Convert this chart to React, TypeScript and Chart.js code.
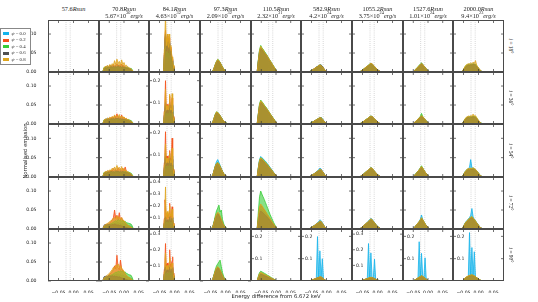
import React, { useEffect, useRef } from 'react';
import { Chart, registerables } from 'chart.js';
Chart.register(...registerables);

// ---------------- labels ----------------
const RADII = ['57.6', '70.8', '84.1', '97.3', '110.5', '582.9', '1055.2', '1527.6', '2000.0'];
const LUM_MANT = ['', '5.67', '4.63', '2.09', '2.32', '4.2', '3.75', '1.01', '9.4'];
const LUM_EXP = ['', '30', '32', '32', '31', '24', '24', '24', '23'];
const INCL = ['18', '36', '54', '72', '90'];
const PSI = ['0.0', '0.2', '0.4', '0.6', '0.8'];
const X_TICKS = [-0.05, 0, 0.05];
const REF_LINES = [-0.025, -0.011];
const Y_UNIT = 0.001; // series values below are normalised emission in units of 0.001

// ---------------- x grids (energy difference, keV) ----------------
const X_C2 = [-0.072, -0.068, -0.064, -0.060, -0.056, -0.052, -0.048, -0.044, -0.040, -0.036, -0.032, -0.028, -0.024, -0.020, -0.016, -0.012, -0.008, -0.004, 0.000, 0.004, 0.008, 0.012, 0.016, 0.020, 0.024, 0.028, 0.032];
const X_C3 = [-0.040, -0.038, -0.036, -0.034, -0.032, -0.030, -0.028, -0.026, -0.024, -0.022, -0.020, -0.018, -0.016, -0.014, -0.012, -0.010, -0.008, -0.006, -0.004, -0.002, 0.000, 0.002, 0.004];
const X_C4 = [-0.050, -0.046, -0.042, -0.038, -0.034, -0.030, -0.026, -0.022, -0.018, -0.014, -0.010, -0.006, -0.002, 0.002, 0.006, 0.010, 0.014, 0.018];
const X_C5 = [-0.068, -0.064, -0.060, -0.056, -0.052, -0.048, -0.044, -0.040, -0.036, -0.032, -0.028, -0.024, -0.020, -0.016, -0.012, -0.008, -0.004, 0.000, 0.004, 0.008, 0.012];
const X_C6 = [-0.062, -0.058, -0.054, -0.050, -0.046, -0.042, -0.038, -0.034, -0.030, -0.026, -0.022, -0.018, -0.014, -0.010, -0.006, -0.002, 0.002, 0.006, 0.010, 0.014, 0.018];

// ---------------- series (psi = 0.0, 0.2, 0.4, 0.6, 0.8) ----------------
// column 2 : 70.8 Rsun
const R1C2 = [
  [0,10,14,12,16,13,15,18,14,16,12,17,15,19,14,16,13,17,12,14,11,13,10,9,8,5,0],
  [0,8,12,15,11,14,18,13,17,20,15,18,22,16,19,14,21,15,17,12,13,10,9,8,6,4,0],
  [0,12,10,13,12,10,14,12,11,13,10,12,11,14,10,12,11,13,10,11,12,10,11,9,10,6,0],
  [0,9,11,10,13,12,11,14,12,15,13,14,12,16,13,15,12,14,11,12,10,11,9,8,7,4,0],
  [0,11,15,13,18,14,20,16,22,18,30,20,34,22,28,19,32,20,25,16,18,14,12,10,8,5,0],
];
const R2C2 = [
  [0,9,12,14,11,15,13,16,12,18,14,16,13,17,15,14,16,12,14,11,12,10,9,8,7,4,0],
  [0,8,13,11,15,12,17,14,19,15,22,17,27,18,20,16,24,15,18,13,14,11,10,8,6,4,0],
  [0,11,9,12,10,13,11,12,10,14,11,13,12,11,13,10,12,11,10,12,11,10,12,10,9,6,0],
  [0,8,10,12,11,13,12,14,13,15,12,16,14,15,13,14,12,13,11,12,10,11,9,8,7,4,0],
  [0,10,13,12,16,13,18,15,20,16,24,18,22,19,25,17,21,16,19,14,15,12,11,9,7,5,0],
];
const R3C2 = [
  [0,10,13,11,15,12,16,13,17,14,15,18,14,16,13,17,14,15,12,14,12,11,10,9,7,4,0],
  [0,9,12,14,12,16,14,18,15,22,17,20,16,24,18,21,17,23,16,26,15,13,11,9,7,4,0],
  [0,12,10,13,11,12,10,14,12,11,13,12,14,11,13,12,11,13,12,14,13,12,13,11,10,6,0],
  [0,9,11,10,12,13,12,15,13,14,12,15,13,16,12,14,13,15,12,13,11,12,10,9,8,4,0],
  [0,11,14,13,17,15,19,16,23,18,26,20,30,21,25,19,27,18,22,17,16,13,12,10,8,5,0],
];
const R4C2 = [
  [0,8,10,9,11,10,12,14,13,15,14,16,15,18,14,16,13,15,12,13,11,10,9,8,7,4,0],
  [0,6,9,12,10,14,16,20,24,30,50,28,36,25,43,24,30,20,22,15,13,10,8,6,5,3,0],
  [0,5,7,8,9,10,12,14,16,18,20,22,20,25,22,24,20,22,18,20,17,16,15,14,13,8,0],
  [0,10,12,11,13,12,11,10,12,11,13,12,10,11,9,10,8,7,6,5,4,3,2,2,1,1,0],
  [0,8,11,13,15,17,20,22,25,28,30,26,35,28,32,26,30,24,22,18,14,11,9,7,5,3,0],
];
const R5C2 = [
  [0,9,11,10,12,13,14,16,15,17,16,18,17,19,16,18,15,16,13,12,11,10,9,8,7,4,0],
  [0,6,8,10,12,15,18,22,26,30,40,32,68,35,30,55,32,26,24,18,14,11,9,7,5,3,0],
  [0,6,8,9,10,12,13,15,17,19,21,23,22,26,24,27,25,26,22,24,20,19,17,16,15,9,0],
  [0,11,12,13,12,14,13,12,14,12,13,11,12,10,11,9,8,7,6,5,4,3,2,2,1,1,0],
  [0,8,10,13,16,18,22,26,30,36,32,42,38,45,36,40,34,30,26,20,16,12,10,8,6,3,0],
];
// column 3 : 84.1 Rsun
const R1C3 = [
  [0,0,5,40,80,95,70,60,85,70,55,80,65,50,60,40,30,25,15,8,3,0,0],
  [0,0,8,50,90,110,75,65,95,75,60,90,70,55,65,45,35,25,15,8,3,0,0],
  [0,0,5,35,60,70,50,40,55,45,35,60,45,35,40,30,25,20,10,5,2,0,0],
  [0,0,5,45,85,100,70,55,80,65,50,75,60,45,55,40,30,22,12,6,2,0,0],
  [0,0,10,60,100,150,90,70,100,80,65,100,75,60,70,50,40,30,18,10,4,0,0],
];
const R2C3 = [
  [0,0,5,40,70,90,60,50,70,60,50,75,100,60,55,70,90,50,30,15,5,0,0],
  [0,0,10,60,100,200,90,70,90,80,70,95,130,80,70,90,120,60,35,18,6,0,0],
  [0,0,5,30,50,60,45,40,50,45,40,55,70,45,40,50,60,35,20,10,3,0,0],
  [0,0,5,40,70,100,60,50,65,55,50,70,90,60,50,65,85,45,25,12,4,0,0],
  [0,0,8,55,95,160,85,65,85,75,65,90,138,75,65,85,140,55,30,15,5,0,0],
];
const R3C3 = [
  [0,0,5,45,80,110,70,55,75,65,55,80,105,65,60,75,95,55,30,15,5,0,0],
  [0,0,10,65,110,205,95,75,95,85,75,100,120,85,75,95,176,65,35,18,6,0,0],
  [0,0,5,30,45,55,45,40,50,45,40,50,60,45,40,45,55,35,20,10,3,0,0],
  [0,0,5,40,70,95,60,50,65,55,50,70,85,55,50,60,80,45,25,12,4,0,0],
  [0,0,8,55,90,150,85,65,85,75,65,90,110,75,65,85,130,55,30,15,5,0,0],
];
const R4C3 = [
  [0,0,10,50,90,110,80,65,85,75,65,90,110,75,65,80,100,60,35,18,6,0,0],
  [0,0,15,90,250,200,120,90,130,110,95,140,220,120,100,130,190,90,50,25,8,0,0],
  [0,0,8,40,60,75,55,50,60,55,50,65,80,55,50,60,75,45,25,12,4,0,0],
  [0,0,10,50,80,100,70,60,75,65,60,80,100,70,60,75,95,55,30,15,5,0,0],
  [0,0,12,80,180,360,140,100,150,120,100,160,200,130,110,140,170,90,45,22,7,0,0],
];
const R5C3 = [
  [0,0,8,45,80,100,70,60,80,70,60,85,100,70,60,75,90,60,35,18,6,0,0],
  [0,0,12,75,130,240,110,85,115,100,85,120,200,110,90,115,130,155,50,25,8,0,0],
  [0,0,6,35,50,60,45,40,50,45,40,55,65,45,40,50,60,45,25,12,4,0,0],
  [0,0,8,45,75,90,65,55,70,60,55,75,90,60,55,65,80,55,30,15,5,0,0],
  [0,0,10,60,105,180,95,75,100,85,75,105,150,90,80,100,115,100,40,20,6,0,0],
];
// column 4 : 97.3 Rsun
const R1C4 = [
  [0,0,3,10,19,27,32,30,25,19,13,8,4,1,0,0,0,0],
  [0,0,2,9,18,26,31,29,24,18,12,7,3,1,0,0,0,0],
  [0,0,3,11,20,28,33,31,25,19,13,8,4,1,0,0,0,0],
  [0,0,2,10,19,26,30,29,24,18,12,7,3,1,0,0,0,0],
  [0,0,3,11,20,28,33,30,25,19,13,8,3,1,0,0,0,0],
];
const R2C4 = [
  [0,1,6,15,25,31,30,27,22,17,12,8,5,3,1,0,0,0],
  [0,1,5,14,24,30,29,26,21,16,11,7,4,2,1,0,0,0],
  [0,1,6,16,26,32,31,27,22,17,12,8,5,3,1,0,0,0],
  [0,1,5,15,24,30,29,26,21,16,11,7,4,2,1,0,0,0],
  [0,1,6,16,25,32,30,27,22,17,12,8,5,3,1,0,0,0],
];
const R3C4 = [
  [0,1,6,18,30,40,45,38,30,22,15,9,5,2,1,0,0,0],
  [0,1,5,16,27,34,36,33,27,20,14,8,4,2,1,0,0,0],
  [0,1,6,17,28,35,38,34,28,21,14,9,5,2,1,0,0,0],
  [0,1,5,16,26,33,35,32,26,20,13,8,4,2,1,0,0,0],
  [0,1,6,17,28,35,37,34,27,21,14,9,5,2,1,0,0,0],
];
const R4C4 = [
  [0,1,7,18,30,38,42,40,33,25,17,10,5,2,1,0,0,0],
  [0,1,6,17,29,37,40,38,31,24,16,10,5,2,1,0,0,0],
  [0,1,7,20,35,48,55,63,45,50,25,14,6,3,1,0,0,0],
  [0,1,6,17,28,36,39,37,30,23,15,9,4,2,1,0,0,0],
  [0,1,7,18,30,40,44,42,34,26,17,10,5,2,1,0,0,0],
];
const R5C4 = [
  [0,1,6,16,26,33,36,34,29,22,15,9,4,2,1,0,0,0],
  [0,1,5,15,25,32,35,33,28,21,14,8,4,2,1,0,0,0],
  [0,1,6,18,30,40,45,50,55,38,22,12,5,2,1,0,0,0],
  [0,1,5,15,24,31,34,32,27,20,13,8,4,2,1,0,0,0],
  [0,1,6,16,27,35,38,35,29,22,15,9,4,2,1,0,0,0],
];
// column 5 : 110.5 Rsun
const R1C5 = [
  [0,0,30,55,65,62,58,54,50,45,40,35,30,25,20,15,10,5,1,0,0],
  [0,0,28,52,62,60,56,52,48,44,38,34,28,24,19,14,9,4,1,0,0],
  [0,0,32,58,70,64,60,55,50,46,40,35,30,25,20,15,10,5,1,0,0],
  [0,0,28,52,62,58,55,51,47,43,38,33,28,23,18,13,9,4,1,0,0],
  [0,0,30,56,68,63,59,54,49,45,40,35,30,25,20,15,10,5,1,0,0],
];
const R2C5 = [
  [0,0,26,50,60,57,53,49,45,41,36,32,27,22,18,13,9,4,1,0,0],
  [0,0,25,48,58,55,51,47,44,40,35,31,26,22,17,13,8,4,1,0,0],
  [0,0,28,53,63,59,55,50,46,42,37,32,27,23,18,14,9,4,1,0,0],
  [0,0,24,47,57,54,50,46,43,39,34,30,25,21,17,12,8,4,1,0,0],
  [0,0,27,51,61,58,54,49,45,41,36,32,27,22,18,13,9,4,1,0,0],
];
const R3C5 = [
  [0,0,25,45,53,50,47,44,41,37,33,29,25,21,16,12,8,4,1,0,0],
  [0,0,22,40,48,46,43,40,37,34,30,26,22,19,15,11,7,3,1,0,0],
  [0,0,24,43,50,48,45,42,39,35,31,27,23,20,15,11,7,4,1,0,0],
  [0,0,21,39,46,44,41,38,35,32,29,25,21,18,14,10,7,3,1,0,0],
  [0,0,23,42,49,47,44,41,38,34,30,27,23,19,15,11,7,4,1,0,0],
];
const R4C5 = [
  [0,0,25,45,52,50,47,44,41,37,33,29,25,21,16,12,8,4,1,0,0],
  [0,0,30,55,62,58,54,50,46,41,36,32,27,22,17,13,8,4,1,0,0],
  [0,0,45,85,100,92,85,78,70,62,54,46,38,31,24,17,11,5,1,0,0],
  [0,0,22,40,47,45,42,39,36,33,29,26,22,18,14,10,7,3,1,0,0],
  [0,0,32,58,66,62,57,52,47,42,37,32,27,22,17,13,8,4,1,0,0],
];
const R5C5 = [
  [0,0,15,28,32,30,28,26,24,22,19,17,15,12,10,7,5,2,1,0,0],
  [0,0,18,32,36,34,32,29,27,24,21,19,16,13,10,8,5,2,1,0,0],
  [0,0,22,38,44,41,38,35,32,29,25,22,19,15,12,9,6,3,1,0,0],
  [0,0,14,26,30,28,26,24,22,20,18,16,13,11,9,6,4,2,1,0,0],
  [0,0,18,33,38,36,33,30,28,25,22,19,16,13,10,8,5,2,1,0,0],
];
// column 6 : 582.9 Rsun
const R1C6 = [
  [0,0,2,4,6,8,10,12,14,16,18,19,15,10,6,2,0,0,0,0,0],
  [0,0,2,3,6,8,10,12,14,17,18,18,14,10,5,2,0,0,0,0,0],
  [0,1,2,4,6,7,10,12,15,16,19,17,14,9,5,2,0,0,0,0,0],
  [0,0,2,4,5,8,10,13,14,16,18,18,15,10,6,2,0,0,0,0,0],
  [0,1,2,4,6,8,11,12,14,17,18,17,14,10,6,2,0,0,0,0,0],
];
const R2C6 = [
  [0,0,2,3,5,7,9,11,13,15,17,17,14,10,5,2,0,0,0,0,0],
  [0,0,1,3,5,7,9,11,13,14,16,16,13,9,5,2,0,0,0,0,0],
  [0,0,2,4,6,7,9,11,13,15,16,17,13,9,5,2,0,0,0,0,0],
  [0,0,1,3,5,7,9,10,12,14,16,16,13,9,5,2,0,0,0,0,0],
  [0,0,2,3,5,7,9,11,13,15,17,16,13,9,5,2,0,0,0,0,0],
];
const R3C6 = [
  [0,0,2,4,6,8,11,13,16,19,23,21,16,11,6,2,0,0,0,0,0],
  [0,0,2,4,6,8,10,12,14,16,19,19,15,10,5,2,0,0,0,0,0],
  [0,0,2,4,6,8,10,12,15,17,19,18,14,10,5,2,0,0,0,0,0],
  [0,0,2,3,5,7,10,12,14,16,18,18,14,10,5,2,0,0,0,0,0],
  [0,0,2,4,6,8,10,12,15,17,20,19,15,10,6,2,0,0,0,0,0],
];
const R4C6 = [
  [0,0,2,4,6,9,11,14,17,20,24,22,17,11,6,2,0,0,0,0,0],
  [0,0,2,4,6,8,10,13,15,17,20,19,15,10,6,2,0,0,0,0,0],
  [0,0,2,4,6,8,10,12,15,17,19,19,15,10,5,2,0,0,0,0,0],
  [0,0,2,4,5,8,10,12,14,16,19,18,14,10,5,2,0,0,0,0,0],
  [0,0,2,4,6,8,11,13,15,18,21,20,15,10,6,2,0,0,0,0,0],
];
const R5C6 = [
  [0,0,1,3,5,7,9,11,199,14,135,15,100,9,5,2,0,0,0,0,0],
  [0,0,2,4,6,8,10,12,14,16,18,18,14,10,5,2,0,0,0,0,0],
  [0,0,2,4,5,7,9,11,13,15,17,17,13,9,5,2,0,0,0,0,0],
  [0,0,2,3,5,7,9,11,13,15,16,16,13,9,5,2,0,0,0,0,0],
  [0,0,2,4,6,8,10,12,14,16,19,18,14,10,6,2,0,0,0,0,0],
];
// column 7 : 1055.2 Rsun
const R1C7 = [
  [0,1,3,5,8,10,13,15,18,20,23,21,18,15,11,8,5,3,1,0,0],
  [0,1,3,5,7,10,12,15,17,20,22,21,18,14,11,8,5,3,1,0,0],
  [0,1,3,5,8,10,13,15,18,21,22,21,17,14,11,7,5,2,1,0,0],
  [0,1,2,5,7,10,12,14,17,19,22,20,17,14,10,7,5,2,1,0,0],
  [0,1,3,6,8,11,13,16,18,21,23,22,18,15,11,8,5,3,1,0,0],
];
const R2C7 = [
  [0,1,3,5,7,9,12,14,16,19,21,20,17,14,10,7,5,2,1,0,0],
  [0,1,2,4,7,9,11,13,16,18,20,19,16,13,10,7,4,2,1,0,0],
  [0,1,3,5,7,9,12,14,16,19,21,19,16,13,10,7,4,2,1,0,0],
  [0,1,2,4,6,9,11,13,15,18,20,19,16,13,9,7,4,2,1,0,0],
  [0,1,3,5,7,10,12,14,17,19,21,20,17,14,10,7,5,2,1,0,0],
];
const R3C7 = [
  [0,1,3,6,8,11,14,16,19,22,25,23,19,15,12,8,5,3,1,0,0],
  [0,1,3,5,8,10,13,15,18,21,23,22,18,15,11,8,5,3,1,0,0],
  [0,1,3,5,8,11,13,16,18,21,24,22,18,15,11,8,5,3,1,0,0],
  [0,1,3,5,7,10,12,15,17,20,22,21,17,14,11,7,5,2,1,0,0],
  [0,1,3,6,8,11,14,16,19,22,24,23,19,15,12,8,5,3,1,0,0],
];
const R4C7 = [
  [0,1,3,6,9,12,15,18,21,25,28,26,21,17,13,9,6,3,1,0,0],
  [0,1,3,6,8,11,14,17,20,23,26,24,20,16,12,8,5,3,1,0,0],
  [0,1,3,6,8,11,14,17,20,23,25,24,20,16,12,8,5,3,1,0,0],
  [0,1,3,5,8,11,13,16,19,22,24,23,19,15,11,8,5,3,1,0,0],
  [0,1,3,6,9,12,15,17,20,24,27,25,20,16,12,9,6,3,1,0,0],
];
const R5C7 = [
  [0,1,3,5,8,10,13,15,240,20,180,20,17,140,10,7,5,2,1,0,0],
  [0,1,3,5,8,10,13,15,18,21,23,22,18,15,11,8,5,3,1,0,0],
  [0,1,3,5,7,10,12,15,17,20,22,21,17,14,11,7,5,2,1,0,0],
  [0,1,2,5,7,9,12,14,16,19,21,20,17,14,10,7,4,2,1,0,0],
  [0,1,3,6,8,11,13,16,19,22,24,22,18,15,11,8,5,3,1,0,0],
];
// column 8 : 1527.6 Rsun
const R1C8 = [
  [0,0,0,1,4,7,10,13,17,20,23,20,16,12,8,5,2,1,0,0,0],
  [0,0,0,1,4,7,10,13,16,19,22,20,16,12,8,4,2,1,0,0,0],
  [0,0,0,1,4,7,11,14,17,21,24,20,16,12,8,5,2,1,0,0,0],
  [0,0,0,1,3,6,10,13,16,19,22,19,15,11,8,4,2,1,0,0,0],
  [0,0,0,1,4,7,10,14,17,20,23,20,16,12,8,5,2,1,0,0,0],
];
const R2C8 = [
  [0,0,0,1,4,7,10,13,16,19,22,19,15,12,8,5,2,1,0,0,0],
  [0,0,0,1,4,6,9,12,15,18,21,19,15,11,8,4,2,1,0,0,0],
  [0,0,0,1,4,7,10,13,17,20,28,20,16,12,8,5,2,1,0,0,0],
  [0,0,0,1,3,6,9,12,15,18,20,18,15,11,7,4,2,1,0,0,0],
  [0,0,0,1,4,7,10,13,16,19,22,20,16,12,8,5,2,1,0,0,0],
];
const R3C8 = [
  [0,0,0,1,4,8,11,15,19,23,27,23,18,13,9,5,2,1,0,0,0],
  [0,0,0,1,4,7,11,14,18,22,26,22,17,13,9,5,2,1,0,0,0],
  [0,0,0,1,4,8,12,15,19,24,29,23,18,13,9,5,2,1,0,0,0],
  [0,0,0,1,4,7,10,14,17,21,25,21,17,12,8,5,2,1,0,0,0],
  [0,0,0,1,4,8,11,15,19,23,27,23,18,13,9,5,2,1,0,0,0],
];
const R4C8 = [
  [0,0,0,1,5,8,12,16,20,26,37,25,19,14,9,5,2,1,0,0,0],
  [0,0,0,1,4,8,11,15,19,23,28,24,18,13,9,5,2,1,0,0,0],
  [0,0,0,1,4,8,12,15,19,24,29,24,19,14,9,5,2,1,0,0,0],
  [0,0,0,1,4,7,11,14,18,22,27,23,18,13,9,5,2,1,0,0,0],
  [0,0,0,1,5,8,12,16,20,24,30,25,19,14,9,5,2,1,0,0,0],
];
const R5C8 = [
  [0,0,0,1,4,7,10,13,176,19,124,19,15,104,8,5,2,1,0,0,0],
  [0,0,0,1,4,7,10,13,16,19,22,20,16,12,8,5,2,1,0,0,0],
  [0,0,0,1,4,7,10,13,17,20,23,20,16,12,8,5,2,1,0,0,0],
  [0,0,0,1,3,6,9,12,15,18,21,19,15,11,8,4,2,1,0,0,0],
  [0,0,0,1,4,7,11,14,17,20,24,21,16,12,8,5,2,1,0,0,0],
];
// column 9 : 2000.0 Rsun
const R1C9 = [
  [0,0,1,6,12,16,18,20,19,21,20,22,20,19,16,12,8,4,2,0,0],
  [0,0,1,5,11,15,17,19,20,18,21,19,21,18,15,11,7,4,2,0,0],
  [0,0,1,6,12,17,19,18,21,20,19,22,20,21,17,12,8,4,2,0,0],
  [0,0,1,5,10,14,16,18,17,19,18,20,19,18,15,11,7,3,1,0,0],
  [0,0,1,7,13,18,20,22,21,24,22,26,23,30,18,13,9,5,2,0,0],
];
const R2C9 = [
  [0,0,1,5,11,15,17,19,18,20,19,21,19,18,15,11,7,4,2,0,0],
  [0,0,1,5,10,14,16,18,19,17,20,18,20,17,14,10,7,3,1,0,0],
  [0,0,1,6,11,16,18,17,20,19,18,21,19,20,16,11,7,4,2,0,0],
  [0,0,1,5,10,14,16,17,16,18,17,19,18,17,14,10,7,3,1,0,0],
  [0,0,1,6,12,17,19,21,20,22,21,26,21,22,17,12,8,4,2,0,0],
];
const R3C9 = [
  [0,0,1,6,12,17,19,22,25,45,24,23,21,19,16,12,8,4,2,0,0],
  [0,0,1,5,11,15,18,20,21,20,22,21,20,18,15,11,7,4,2,0,0],
  [0,0,1,6,12,16,19,21,20,22,21,23,21,19,16,12,8,4,2,0,0],
  [0,0,1,5,10,14,17,19,18,20,19,21,19,17,14,10,7,3,1,0,0],
  [0,0,1,6,12,17,20,22,21,23,22,24,22,20,16,12,8,4,2,0,0],
];
const R4C9 = [
  [0,0,1,7,14,19,23,26,30,36,54,32,26,21,17,12,8,4,2,0,0],
  [0,0,1,6,12,17,21,24,27,29,31,28,24,20,16,11,7,4,2,0,0],
  [0,0,1,6,13,18,22,25,28,30,32,29,25,21,16,12,8,4,2,0,0],
  [0,0,1,6,12,16,20,23,26,28,30,27,23,19,15,11,7,4,2,0,0],
  [0,0,1,7,13,18,22,25,28,31,33,29,25,21,16,12,8,4,2,0,0],
];
const R5C9 = [
  [0,0,1,5,10,14,17,19,217,20,150,21,131,17,14,10,7,3,1,0,0],
  [0,0,1,6,12,16,19,22,24,25,26,25,22,19,15,11,7,4,2,0,0],
  [0,0,1,6,11,16,19,21,23,25,27,25,22,19,15,11,7,4,2,0,0],
  [0,0,1,5,10,14,17,20,22,23,24,23,20,17,14,10,6,3,1,0,0],
  [0,0,1,6,12,17,20,23,25,27,28,26,23,19,15,11,7,4,2,0,0],
];

// ---------------- tables built from the arrays ----------------
const COL_X = [null, X_C2, X_C3, X_C4, X_C5, X_C6, X_C6, X_C6, X_C6];
const PANEL_SERIES = [
  [null, R1C2, R1C3, R1C4, R1C5, R1C6, R1C7, R1C8, R1C9],
  [null, R2C2, R2C3, R2C4, R2C5, R2C6, R2C7, R2C8, R2C9],
  [null, R3C2, R3C3, R3C4, R3C5, R3C6, R3C7, R3C8, R3C9],
  [null, R4C2, R4C3, R4C4, R4C5, R4C6, R4C7, R4C8, R4C9],
  [null, R5C2, R5C3, R5C4, R5C5, R5C6, R5C7, R5C8, R5C9],
];
const STD_MAX = 0.137;
const STD_TICKS = [0, 0.05, 0.1];
// panels that carry their own y-scale: [row, col, ymax, ticks]
const OWN_SCALES: [number, number, number, number[]][] = [
  [1, 2, 0.24, [0.1, 0.2]],
  [2, 2, 0.24, [0.1, 0.2]],
  [3, 2, 0.445, [0.1, 0.2, 0.3, 0.4]],
  [4, 2, 0.333, [0.1, 0.2, 0.3]],
  [4, 4, 0.233, [0.1, 0.2]],
  [4, 5, 0.233, [0.1, 0.2]],
  [4, 6, 0.333, [0.1, 0.2, 0.3]],
  [4, 7, 0.233, [0.1, 0.2]],
  [4, 8, 0.233, [0.1, 0.2]],
];

const COLORS = ['20,180,235', '245,80,25', '55,205,55', '80,80,80', '222,165,30'];

// ---------------- layout ----------------
const W = 538, H = 302;
const GX = [48, 99, 149, 200, 251, 301, 352, 403, 453, 504];
const GY = [20, 72, 124, 177, 229, 281];
const YW = 30; // room for left tick labels
const XH = 12; // room for bottom tick labels
const VPAD = 5; // room above/below first-column panels so edge labels are not cut
const TICK_FONT = { family: 'DejaVu Sans', size: 4.6 };

const framePlugin = {
  id: 'panelFrame',
  beforeDatasetsDraw(chart: any, _a: any, opts: any) {
    const { ctx, chartArea: a } = chart;
    const x = chart.scales.x;
    ctx.save();
    ctx.strokeStyle = '#b8b8b8';
    ctx.lineWidth = 0.7;
    ctx.setLineDash([0.8, 1.3]);
    for (const v of opts.lines) {
      const px = x.getPixelForValue(v);
      ctx.beginPath();
      ctx.moveTo(px, a.top);
      ctx.lineTo(px, a.bottom);
      ctx.stroke();
    }
    ctx.restore();
  },
  afterDatasetsDraw(chart: any, _a: any, opts: any) {
    const { ctx, chartArea: a } = chart;
    const x = chart.scales.x, y = chart.scales.y;
    ctx.save();
    ctx.strokeStyle = '#333';
    ctx.lineWidth = 0.7;
    const seg = (x1: number, y1: number, x2: number, y2: number) => {
      ctx.beginPath(); ctx.moveTo(x1, y1); ctx.lineTo(x2, y2); ctx.stroke();
    };
    for (const v of opts.xTicks) {
      const px = x.getPixelForValue(v);
      seg(px, a.top, px, a.top + 3);
      seg(px, a.bottom, px, a.bottom - 3);
    }
    for (const v of opts.yTicks) {
      const py = y.getPixelForValue(v);
      seg(a.left, py, a.left + 3, py);
      seg(a.right, py, a.right - 3, py);
    }
    ctx.strokeStyle = '#4a4a4a';
    ctx.lineWidth = 1;
    ctx.strokeRect(a.left + 0.5, a.top + 0.5, a.right - a.left - 1, a.bottom - a.top - 1);
    ctx.restore();
  },
};

function buildConfig(r: number, c: number): any {
  const xs = COL_X[c];
  const series = PANEL_SERIES[r][c];
  const own = OWN_SCALES.find((o) => o[0] === r && o[1] === c);
  const ymax = own ? own[2] : STD_MAX;
  const yTicks = own ? own[3] : STD_TICKS;
  const datasets = series && xs
    ? series.map((ys, i) => ({
        label: 'psi = ' + PSI[i],
        data: xs.map((x, j) => ({ x, y: ys[j] * Y_UNIT })),
        borderColor: `rgba(${COLORS[i]},1)`,
        backgroundColor: `rgba(${COLORS[i]},0.6)`,
        borderWidth: 0.8,
        pointRadius: 0,
        tension: 0,
        fill: 'origin',
        order: 4 - i,
      }))
    : [];
  const showX = r === 4;
  const showYOut = c === 0;
  const showYIn = !!own;
  const padTop = showYOut ? VPAD : 0;
  const padBottom = showYOut && !showX ? VPAD : 0;
  return {
    type: 'line',
    data: { datasets },
    options: {
      animation: false,
      responsive: false,
      devicePixelRatio: 1,
      layout: { padding: { top: padTop, bottom: padBottom, left: 0, right: 0 }, autoPadding: false },
      events: [],
      plugins: {
        legend: { display: false },
        tooltip: { enabled: false },
        panelFrame: { lines: REF_LINES, xTicks: X_TICKS, yTicks },
      },
      scales: {
        x: {
          type: 'linear',
          min: -0.085,
          max: 0.085,
          display: showX,
          afterBuildTicks: (s: any) => { s.ticks = X_TICKS.map((v) => ({ value: v })); },
          afterFit: (s: any) => { s.height = showX ? XH : 0; s.paddingLeft = 0; s.paddingRight = 0; },
          grid: { display: false },
          border: { display: false },
          ticks: {
            font: TICK_FONT,
            color: '#262626',
            padding: 1.5,
            autoSkip: false,
            maxRotation: 0,
            minRotation: 0,
            callback: (v: number) => (v < 0 ? '\u2212' : '') + Math.abs(v).toFixed(2),
          },
        },
        y: {
          type: 'linear',
          min: 0,
          max: ymax,
          display: showYOut || showYIn,
          afterBuildTicks: (s: any) => { s.ticks = yTicks.map((v) => ({ value: v })); },
          afterFit: (s: any) => { s.width = showYOut ? YW : 0; s.paddingTop = 0; s.paddingBottom = 0; },
          grid: { display: false },
          border: { display: false },
          ticks: {
            font: TICK_FONT,
            color: '#262626',
            padding: showYOut ? 3.5 : 4,
            mirror: showYIn && !showYOut,
            autoSkip: false,
            callback: (v: number) => (own ? v.toFixed(1) : v.toFixed(2)),
          },
        },
      },
    },
    plugins: [framePlugin],
  };
}

function Panel({ r, c }: { r: number; c: number }) {
  const ref = useRef<HTMLCanvasElement>(null);
  const first = c === 0;
  const bottom = r === 4;
  const left = GX[c] - (first ? YW : 0);
  const top = GY[r] - (first ? VPAD : 0);
  const w = GX[c + 1] - GX[c] + (first ? YW : 0);
  const h = GY[r + 1] - GY[r] + (bottom ? XH : 0) + (first ? VPAD : 0) + (first && !bottom ? VPAD : 0);
  useEffect(() => {
    const chart = new Chart(ref.current as HTMLCanvasElement, buildConfig(r, c));
    return () => chart.destroy();
  }, [r, c]);
  return (
    <canvas
      ref={ref}
      width={w}
      height={h}
      style={{ position: 'absolute', left, top, width: w, height: h }}
    />
  );
}

const serif = '"Liberation Serif", "DejaVu Serif", serif';
const sans = '"DejaVu Sans", sans-serif';

export default function App() {
  const panels: any[] = [];
  for (let r = 0; r < 5; r++) for (let c = 0; c < 9; c++) panels.push(<Panel key={r + '-' + c} r={r} c={c} />);
  return (
    <div style={{ position: 'fixed', left: 0, top: 0, width: W, height: H, background: '#fff', overflow: 'hidden' }}>
      {panels}
      {RADII.map((rad, c) => {
        const cx = (GX[c] + GX[c + 1]) / 2;
        return (
          <div key={'t' + c} style={{ position: 'absolute', left: cx - 40, width: 80, top: 4.5, textAlign: 'center', fontFamily: serif, fontSize: 6.3, lineHeight: '7px', color: '#222', whiteSpace: 'nowrap' }}>
            <div>{rad}<i>Rsun</i></div>
            {LUM_MANT[c] && (
              <div>
                {LUM_MANT[c]}×10<sup style={{ fontSize: 4.3, verticalAlign: 'top', lineHeight: '4px', position: 'relative', top: -0.8 }}>{LUM_EXP[c]}</sup><i>erg/s</i>
              </div>
            )}
          </div>
        );
      })}
      {INCL.map((inc, r) => {
        const cy = (GY[r] + GY[r + 1]) / 2;
        return (
          <div key={'i' + r} style={{ position: 'absolute', left: 511 - 20, top: cy - 4, width: 40, height: 8, textAlign: 'center', lineHeight: '8px', fontFamily: serif, fontSize: 5.4, color: '#222', transform: 'rotate(90deg)', whiteSpace: 'nowrap' }}>
            <i>i</i> = {inc}°
          </div>
        );
      })}
      <div style={{ position: 'absolute', left: 25 - 60, top: 151 - 5, width: 120, height: 10, lineHeight: '10px', textAlign: 'center', fontFamily: sans, fontSize: 5.3, color: '#222', transform: 'rotate(-90deg)', whiteSpace: 'nowrap' }}>
        Normalised emission
      </div>
      <div style={{ position: 'absolute', left: 276 - 100, top: 291, width: 200, height: 10, lineHeight: '10px', textAlign: 'center', fontFamily: sans, fontSize: 5.3, color: '#222', whiteSpace: 'nowrap' }}>
        Energy difference from 6.672 keV
      </div>
      <div style={{ position: 'absolute', left: 0, top: 28, width: 31, height: 37, border: '0.8px solid #888', boxSizing: 'border-box', background: '#fff' }}>
        {PSI.map((p, i) => (
          <div key={'l' + i} style={{ position: 'absolute', left: 1.5, top: 2 + i * 6.4, height: 6, width: 29, fontFamily: serif, fontSize: 4.8, lineHeight: '6px', color: '#222', whiteSpace: 'nowrap' }}>
            <span style={{ display: 'inline-block', width: 6, height: 3, background: `rgb(${COLORS[i]})`, verticalAlign: 'middle', marginRight: 3 }} />
            <i>ψ</i> = {p}
          </div>
        ))}
      </div>
    </div>
  );
}
